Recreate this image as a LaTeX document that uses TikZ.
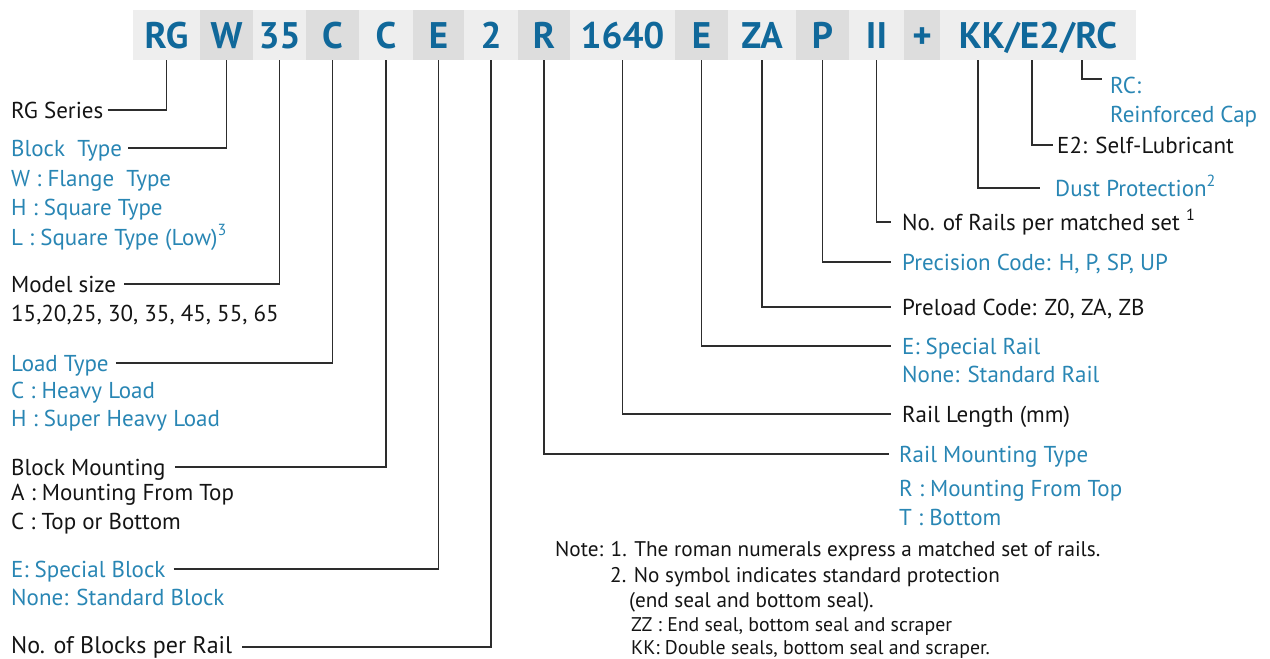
\documentclass[tikz,border=0pt]{standalone}
\usepackage{fontspec}
\setmainfont{PT Sans}
\usetikzlibrary{calc}
\definecolor{hdrblue}{RGB}{16,104,154}
\definecolor{lblblue}{RGB}{41,134,180}
\definecolor{boxlight}{RGB}{238,238,238}
\definecolor{boxdark}{RGB}{221,221,221}
\definecolor{linecol}{RGB}{45,45,45}
\definecolor{txtblack}{RGB}{20,20,20}
\begin{document}
\begin{tikzpicture}[x=1pt,y=-1pt,
  hbox/.style={fill=boxlight, minimum height=50pt, inner sep=0pt, text=hdrblue,
    font=\fontsize{37}{40}\selectfont\bfseries, text height=26pt, text depth=0pt},
  dk/.style={fill=boxdark},
  lab/.style={anchor=base west, inner sep=0pt, font=\fontsize{23}{27}\selectfont, text=txtblack},
  blab/.style={lab, text=lblblue},
  note/.style={lab, font=\fontsize{21.2}{25}\selectfont},
  snote/.style={lab, font=\fontsize{19.8}{23}\selectfont},
  conn/.style={draw=linecol, line width=1.3pt}]
\useasboundingbox (0,0) rectangle (1270,659);
% header
\node[hbox, minimum width=67pt] (h1) at (166.5,35) {RG};
\node[hbox, dk, minimum width=53pt] (h2) at (226.5,35) {W};
\node[hbox, minimum width=53pt] (h3) at (279.5,35) {35};
\node[hbox, dk, minimum width=53pt] (h4) at (332.5,35) {C};
\node[hbox, minimum width=54pt] (h5) at (386,35) {C};
\node[hbox, dk, minimum width=51pt] (h6) at (438.5,35) {E};
\node[hbox, minimum width=54pt] (h7) at (491,35) {2};
\node[hbox, dk, minimum width=52pt] (h8) at (544,35) {R};
\node[hbox, minimum width=105pt] (h9) at (622.5,35) {1640};
\node[hbox, dk, minimum width=53pt] (h10) at (701.5,35) {E};
\node[hbox, minimum width=68pt] (h11) at (762,35) {ZA};
\node[hbox, dk, minimum width=53pt] (h12) at (822.5,35) {P};
\node[hbox, minimum width=55pt] (h13) at (876.5,35) {II};
\node[hbox, dk, minimum width=36pt] (h14) at (922,35) {+};
\node[hbox, minimum width=196pt] (h15) at (1038,35) {KK/E2/RC};
\coordinate (tKK) at (978,60);
\coordinate (tE2) at (1032,60);
\coordinate (tRC) at (1082,60);
% left labels
\node[lab] (l1) at (11,118) {RG Series};
\node[blab] (l2) at (11,156) {Block\ \ Type};
\node[blab] (l2a) at (11,186) {W : Flange\ \ Type};
\node[blab] (l2b) at (11,215) {H : Square Type};
\node[blab] (l2c) at (11,245) {L : Square Type (Low)\textsuperscript{3}};
\node[lab] (l3) at (11,292) {Model size};
\node[lab] (l3a) at (11,321) {15,20,25, 30, 35, 45, 55, 65};
\node[blab] (l4) at (11,371) {Load Type};
\node[blab] (l4a) at (11,398) {C : Heavy Load};
\node[blab] (l4b) at (11,426) {H : Super Heavy Load};
\node[lab] (l5) at (11,475) {Block Mounting};
\node[lab] (l5a) at (11,500) {A : Mounting From Top};
\node[lab] (l5b) at (11,529) {C : Top or Bottom};
\node[blab] (l6) at (11,577) {E: Special Block};
\node[blab] (l6a) at (11,605) {None: Standard Block};
\node[lab, font=\fontsize{24}{28}\selectfont] (l7) at (11,653) {No. of Blocks per Rail};
% right labels
\node[blab] (r1) at (1110,93) {RC:};
\node[blab] (r1a) at (1110,122) {Reinforced Cap};
\node[lab] (r2) at (1057,153) {E2: Self-Lubricant};
\node[blab] (r3) at (1055,196) {Dust Protection\textsuperscript{2}};
\node[lab] (r4) at (902,230) {No. of Rails per matched set \textsuperscript{1}};
\node[blab] (r5) at (902,270) {Precision Code: H, P, SP, UP};
\node[lab] (r6) at (902,315) {Preload Code: Z0, ZA, ZB};
\node[blab] (r7) at (902,354) {E: Special Rail};
\node[blab] (r7a) at (902,382) {None: Standard Rail};
\node[lab] (r8) at (902,422) {Rail Length (mm)};
\node[blab] (r9) at (899,462) {Rail Mounting Type};
\node[blab] (r9a) at (899,496) {R : Mounting From Top};
\node[blab] (r9b) at (899,525) {T : Bottom};
% notes
\node[note] (n1) at (555,556) {Note: 1. The roman numerals express a matched set of rails.};
\node[note] (n2) at (610,582) {2. No symbol indicates standard protection};
\node[note] (n3) at (629,607) {(end seal and bottom seal).};
\node[snote] (n4) at (631,631) {ZZ : End seal, bottom seal and scraper};
\node[snote] (n5) at (631,654) {KK: Double seals, bottom seal and scraper.};
% left connectors
\draw[conn] ([shift={(4,-8)}]l1.base east) -| (h1.south);
\draw[conn] ([shift={(6,-8)}]l2.base east) -| (h2.south);
\draw[conn] ([shift={(8,-8)}]l3.base east) -| (h3.south);
\draw[conn] ([shift={(7,-8)}]l4.base east) -| (h4.south);
\draw[conn] ([shift={(9,-8)}]l5.base east) -| (h5.south);
\draw[conn] ([shift={(8,-8)}]l6.base east) -| (h6.south);
\draw[conn] ([shift={(10,-6)}]l7.base east) -| (h7.south);
% right connectors
\draw[conn] (tRC) |- ([shift={(-8,-14)}]r1.base west);
\draw[conn] (tE2) |- ([shift={(-4,-8)}]r2.base west);
\draw[conn] (tKK) |- ([shift={(-15,-8)}]r3.base west);
\draw[conn] (h13.south) |- ([shift={(-11,-8)}]r4.base west);
\draw[conn] (h12.south) |- ([shift={(-11,-8)}]r5.base west);
\draw[conn] (h11.south) |- ([shift={(-11,-8)}]r6.base west);
\draw[conn] (h10.south) |- ([shift={(-11,-8)}]r7.base west);
\draw[conn] (h9.south) |- ([shift={(-11,-8)}]r8.base west);
\draw[conn] (h8.south) |- ([shift={(-10,-8)}]r9.base west);
\end{tikzpicture}
\end{document}
